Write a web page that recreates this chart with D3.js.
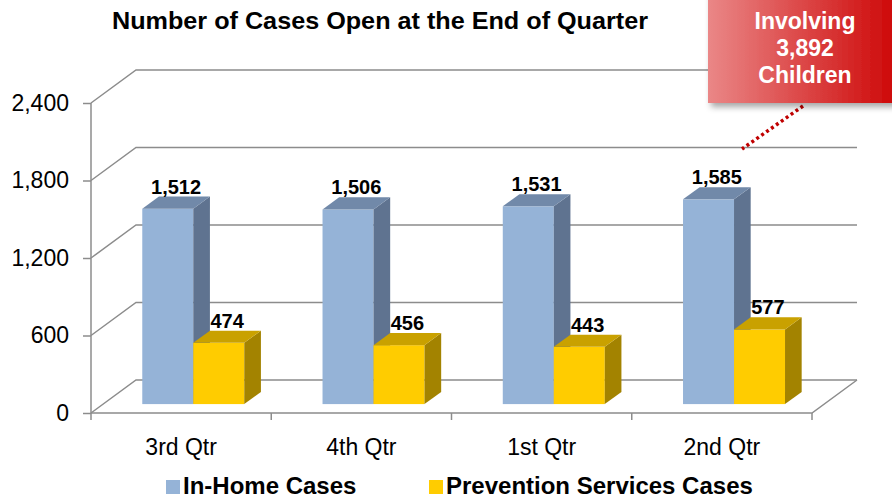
<!DOCTYPE html>
<html>
<head>
<meta charset="utf-8">
<script src="https://cdn.jsdelivr.net/npm/d3@7"></script>
<style>
  body { margin: 0; background: #fff; }
  text { font-family: "Liberation Sans", Arial, sans-serif; }
</style>
</head>
<body>
<script>
// data
const categories = ["3rd Qtr", "4th Qtr", "1st Qtr", "2nd Qtr"];
const inHome = [1512, 1506, 1531, 1585];
const prevention = [474, 456, 443, 577];
const yTicks = [0, 600, 1200, 1800, 2400];
const seriesNames = ["In-Home Cases", "Prevention Services Cases"];
const calloutLines = ["Involving", "3,892", "Children"];

const width = 892, height = 500;

// 3d depth of the plot box
const depthX = 45, depthY = -33;
const barZ0 = 0.27, barZ1 = 0.64;

const svg = d3.select("body")
  .append("svg")
    .attr("width", width)
    .attr("height", height);

const defs = svg.append("defs");
const grad = defs.append("linearGradient").attr("id", "callGrad")
    .attr("x1", "0%").attr("x2", "100%").attr("y1", "0%").attr("y2", "0%");
grad.append("stop").attr("offset", "0%").attr("stop-color", "#ea8787");
grad.append("stop").attr("offset", "100%").attr("stop-color", "#cc0000");
const shadow = defs.append("filter").attr("id", "shadow")
    .attr("x", "-20%").attr("y", "-20%").attr("width", "150%").attr("height", "150%");
shadow.append("feDropShadow").attr("dx", 3).attr("dy", 4).attr("stdDeviation", 3)
    .attr("flood-color", "#000").attr("flood-opacity", 0.35);

// scales
const x = d3.scaleBand()
    .domain(categories)
    .range([91, 812]);

const y = d3.scaleLinear()
    .domain([0, 2400])
    .range([413, 103]);

const xSeries = d3.scaleBand()
    .domain(seriesNames)
    .range([-51, 51]);

function proj(px, py, z) { return [px + depthX * z, py + depthY * z]; }

const grid = svg.append("g")
    .attr("fill", "none")
    .attr("stroke", "#8c8c8c")
    .attr("stroke-width", 1.5);

// side wall diagonals and back wall gridlines
yTicks.forEach(t => {
  const a = proj(x.range()[0], y(t), 0), b = proj(x.range()[0], y(t), 1);
  const c = proj(x.range()[1], y(t), 1);
  grid.append("polyline")
    .attr("points", [a, b, c].map(p => p.join(",")).join(" "));
});

// floor front edge and right edge
const f0 = proj(x.range()[0], y(0), 0), f1 = proj(x.range()[1], y(0), 0), f2 = proj(x.range()[1], y(0), 1);
grid.append("polyline").attr("points", [f0, f1, f2].map(p => p.join(",")).join(" "));

// vertical axis
svg.append("g")
    .attr("transform", `translate(${x.range()[0]},0)`)
    .call(d3.axisLeft(y).tickValues(yTicks).tickSize(8).tickPadding(14).tickFormat(d3.format(",")))
    .call(g => g.select(".domain").attr("stroke", "#8c8c8c").attr("stroke-width", 1.5)
      .attr("d", `M0,${y(2400)}V${y(0) + 7}`))
    .call(g => g.selectAll(".tick line").attr("stroke", "#8c8c8c").attr("stroke-width", 1.5))
    .call(g => g.selectAll(".tick text").attr("font-size", 23).attr("fill", "#000")
      .attr("font-family", "Liberation Sans, Arial, sans-serif"));

// category axis along the floor front edge
svg.append("g")
    .attr("transform", `translate(0,${y(0)})`)
    .call(d3.axisBottom(x).tickSize(0).tickPadding(26))
    .call(g => g.select(".domain").remove())
    .call(g => g.selectAll(".tick text").attr("font-size", 23).attr("fill", "#000")
      .attr("font-family", "Liberation Sans, Arial, sans-serif"));

svg.append("g")
    .selectAll("line")
    .data(categories)
    .join("line")
      .attr("x1", d => x(d) + x.bandwidth())
      .attr("x2", d => x(d) + x.bandwidth())
      .attr("y1", y(0))
      .attr("y2", y(0) + 7)
      .attr("stroke", "#8c8c8c")
      .attr("stroke-width", 1.5);

// bars
const bars = [];
categories.forEach((c, i) => {
  bars.push({cat: c, series: seriesNames[0], value: inHome[i], front: "#95b3d7", top: "#7189a9", side: "#5f7390"});
  bars.push({cat: c, series: seriesNames[1], value: prevention[i], front: "#ffcc00", top: "#c9a100", side: "#a38300"});
});

const dz = barZ1 - barZ0;
const barG = svg.append("g");
bars.forEach(b => {
  const cx = x(b.cat) + x.bandwidth() / 2;
  const x0 = cx + xSeries(b.series), x1 = x0 + xSeries.bandwidth();
  const [fx0, fyTop] = proj(x0, y(b.value), barZ0);
  const [fx1, fyBase] = proj(x1, y(0), barZ0);
  const ox = depthX * dz, oy = depthY * dz;
  const g = barG.append("g");
  g.append("rect")
    .attr("x", fx0).attr("y", fyTop)
    .attr("width", fx1 - fx0).attr("height", fyBase - fyTop)
    .attr("fill", b.front);
  g.append("polygon")
    .attr("points", [[fx1, fyTop], [fx1 + ox, fyTop + oy], [fx1 + ox, fyBase + oy], [fx1, fyBase]].map(p => p.join(",")).join(" "))
    .attr("fill", b.side);
  g.append("polygon")
    .attr("points", [[fx0, fyTop], [fx0 + ox, fyTop + oy], [fx1 + ox, fyTop + oy], [fx1, fyTop]].map(p => p.join(",")).join(" "))
    .attr("fill", b.top);
  b.lx = (fx0 + fx1) / 2 + ox / 2;
  b.ly = fyTop + oy - 3;
});

// value labels
svg.append("g")
  .selectAll("text")
  .data(bars)
  .join("text")
    .attr("x", d => d.lx)
    .attr("y", d => d.ly)
    .attr("text-anchor", "middle")
    .attr("font-size", 20)
    .attr("font-weight", "bold")
    .text(d => d3.format(",")(d.value));

// title
svg.append("text")
    .attr("x", 380)
    .attr("y", 29)
    .attr("text-anchor", "middle")
    .attr("font-size", 24)
    .attr("font-weight", "bold")
    .attr("textLength", 536)
    .attr("lengthAdjust", "spacingAndGlyphs")
    .text("Number of Cases Open at the End of Quarter");

// legend
const legendX = [166, 429];
const legendColors = ["#95b3d7", "#ffcc00"];
const leg = svg.append("g")
  .selectAll("g")
  .data(seriesNames)
  .join("g")
    .attr("transform", (d, i) => `translate(${legendX[i]},480)`);
leg.append("rect").attr("width", 14).attr("height", 14).attr("fill", (d, i) => legendColors[i]);
leg.append("text")
    .attr("x", 17).attr("y", 14)
    .attr("font-size", 24)
    .attr("font-weight", "bold")
    .text(d => d);

// callout
svg.append("line")
    .attr("x1", 803).attr("y1", 106)
    .attr("x2", 742).attr("y2", 149)
    .attr("stroke", "#c00000")
    .attr("stroke-width", 3.5)
    .attr("stroke-dasharray", "3,3");

svg.append("rect")
    .attr("x", 708).attr("y", -10)
    .attr("width", 200).attr("height", 113)
    .attr("fill", "url(#callGrad)")
    .attr("filter", "url(#shadow)");

svg.append("g")
  .selectAll("text")
  .data(calloutLines)
  .join("text")
    .attr("x", 805)
    .attr("y", (d, i) => 29 + i * 27)
    .attr("text-anchor", "middle")
    .attr("fill", "#fff")
    .attr("font-size", 23)
    .attr("font-weight", "bold")
    .text(d => d);
</script>
</body>
</html>
